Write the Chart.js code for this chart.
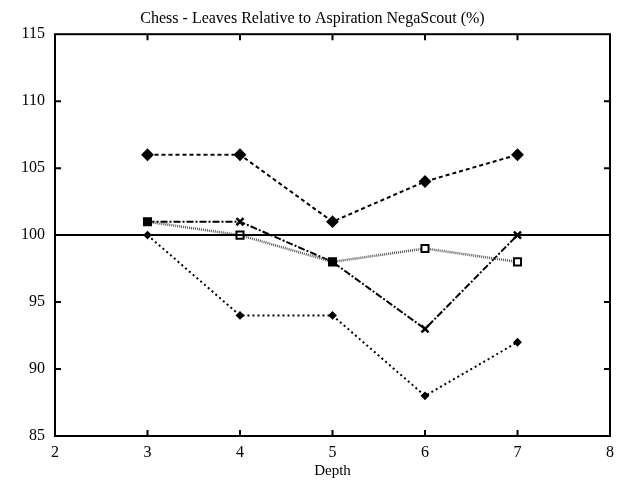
<!DOCTYPE html>
<html>
<head>
<meta charset="utf-8">
<script src="https://cdn.jsdelivr.net/npm/chart.js@4/dist/chart.umd.min.js"></script>
<style>
  html, body { margin: 0; padding: 0; background: #fff; }
  #wrap { width: 623px; height: 487px; }
</style>
</head>
<body>
<div id="wrap"><canvas id="chart" width="623" height="487"></canvas></div>
<script>
// values
var depths = [3, 4, 5, 6, 7];
var diamondSeries = [106, 106, 101, 104, 106];
var crossSeries = [101, 101, 98, 93, 100];
var boxSeries = [101, 100, 98, 99, 98];
var plusSeries = [100, 94, 94, 88, 92];
var baseline = [100, 100];
var baselineDepths = [2, 8];

function pts(xs, ys) {
  return xs.map(function (x, i) { return { x: x, y: ys[i] }; });
}

// gnuplot style inward ticks + frame
var frameTicks = {
  id: 'frameTicks',
  afterDatasetsDraw: function (chart) {
    var ctx = chart.ctx;
    var a = chart.chartArea;
    var xs = chart.scales.x, ys = chart.scales.y;
    ctx.save();
    ctx.strokeStyle = '#000';
    ctx.lineWidth = 2;
    ctx.strokeRect(a.left, a.top, a.right - a.left, a.bottom - a.top);
    ctx.beginPath();
    for (var v = 3; v <= 7; v++) {
      var px = xs.getPixelForValue(v);
      ctx.moveTo(px, a.bottom); ctx.lineTo(px, a.bottom - 6);
      ctx.moveTo(px, a.top); ctx.lineTo(px, a.top + 6);
    }
    for (var w = 90; w <= 110; w += 5) {
      var py = ys.getPixelForValue(w);
      ctx.moveTo(a.left, py); ctx.lineTo(a.left + 6, py);
      ctx.moveTo(a.right, py); ctx.lineTo(a.right - 6, py);
    }
    ctx.stroke();
    ctx.restore();
  }
};

var serif = 'Liberation Serif, Times New Roman, serif';

new Chart(document.getElementById('chart'), {
  type: 'line',
  data: {
    datasets: [
      {
        data: pts(baselineDepths, baseline),
        borderColor: '#000', borderWidth: 2, pointRadius: 0
      },
      {
        data: pts(depths, diamondSeries),
        borderColor: '#000', borderWidth: 2, borderDash: [4, 3],
        pointStyle: 'rectRot', pointRadius: 5, backgroundColor: '#000', pointBorderColor: '#000'
      },
      {
        data: pts(depths, plusSeries),
        borderColor: '#000', borderWidth: 2, borderDash: [2, 3],
        pointStyle: 'rectRot', pointRadius: 3, backgroundColor: '#000', pointBorderColor: '#000'
      },
      {
        data: pts(depths, boxSeries),
        borderColor: '#555', borderWidth: 2.5, borderDash: [1, 1],
        pointStyle: 'rect', pointRadius: 5, pointBorderWidth: 2,
        pointBackgroundColor: ['#000', '#fff', '#000', '#fff', '#fff'], pointBorderColor: '#000'
      },
      {
        data: pts(depths, crossSeries),
        borderColor: '#000', borderWidth: 2, borderDash: [7, 2, 2, 2],
        pointStyle: 'crossRot', pointRadius: 5, pointBorderWidth: 2.5, pointBorderColor: '#000'
      }
    ]
  },
  options: {
    responsive: false,
    animation: false,
    layout: { padding: { left: 11, right: 9, top: 0, bottom: 8 } },
    plugins: {
      legend: { display: false },
      tooltip: { enabled: false },
      title: {
        display: true,
        text: 'Chess - Leaves Relative to Aspiration NegaScout (%)',
        color: '#000',
        font: { family: serif, size: 16, weight: 'normal' },
        padding: { top: 9, bottom: 6 }
      }
    },
    scales: {
      x: {
        type: 'linear', min: 2, max: 8,
        ticks: { stepSize: 1, color: '#000', font: { family: serif, size: 16, lineHeight: 1 }, padding: 9 },
        grid: { display: false, drawTicks: false },
        border: { display: false },
        title: {
          display: true, text: 'Depth', color: '#000',
          font: { family: serif, size: 15, lineHeight: 1 },
          padding: { top: -6, bottom: 0 }
        }
      },
      y: {
        min: 85, max: 115,
        ticks: { stepSize: 5, color: '#000', font: { family: serif, size: 16 }, padding: 10 },
        grid: { display: false, drawTicks: false },
        border: { display: false }
      }
    }
  },
  plugins: [frameTicks]
});
</script>
</body>
</html>
